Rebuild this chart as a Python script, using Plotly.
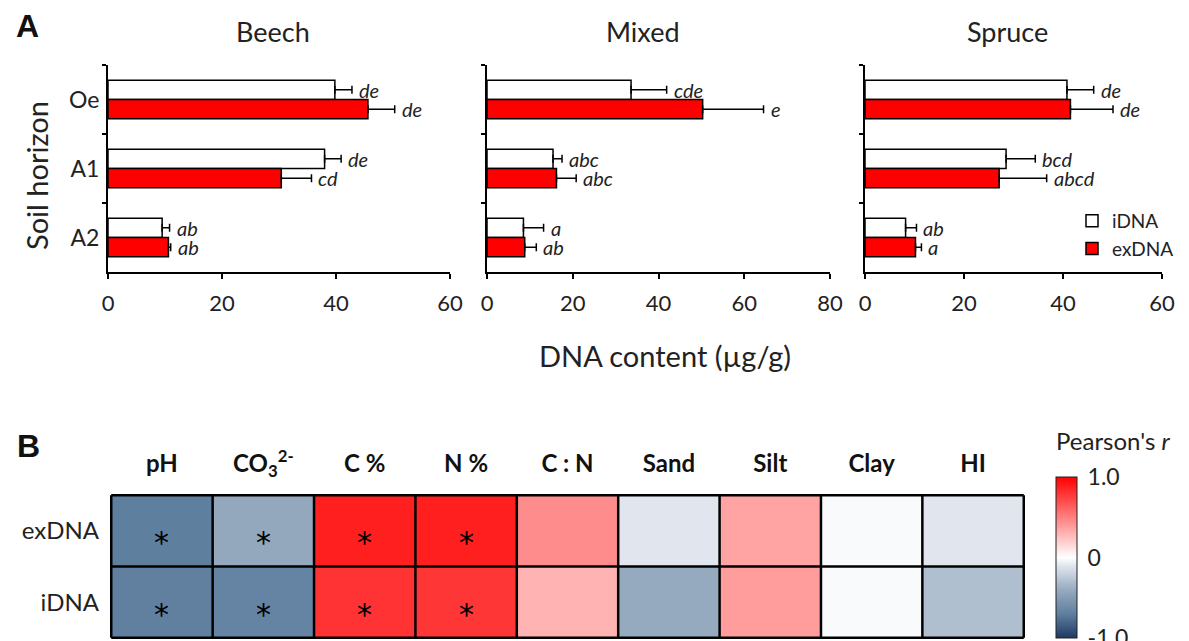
import plotly.graph_objects as go

# page body has an 8px margin, so the figure is sized to fit the 1189x641 window
OFF = 8
W, H = 1189 - 2 * OFF, 641 - OFF
FONT = "Lato, Carlito, Open Sans, sans-serif"

# ---------------- Panel A data ----------------
horizons = ["Oe", "A1", "A2"]

beech_idna = [39.8, 38.0, 9.5]
beech_idna_err = [3.0, 2.9, 1.3]
beech_exdna = [45.6, 30.4, 10.6]
beech_exdna_err = [4.7, 5.3, 0.4]

mixed_idna = [33.6, 15.4, 8.5]
mixed_idna_err = [8.3, 2.1, 4.7]
mixed_exdna = [50.3, 16.2, 8.8]
mixed_exdna_err = [14.2, 4.6, 2.7]

spruce_idna = [40.8, 28.5, 8.2]
spruce_idna_err = [5.4, 5.9, 2.2]
spruce_exdna = [41.5, 27.1, 10.2]
spruce_exdna_err = [8.6, 9.6, 1.2]

beech_idna_lab = ["de", "de", "ab"]
beech_exdna_lab = ["de", "cd", "ab"]
mixed_idna_lab = ["cde", "abc", "a"]
mixed_exdna_lab = ["e", "abc", "ab"]
spruce_idna_lab = ["de", "bcd", "ab"]
spruce_exdna_lab = ["de", "abcd", "a"]

forest_types = ["Beech", "Mixed", "Spruce"]
x_max = [60, 80, 60]

# ---------------- Panel B data ----------------
variables = ["pH", "CO<sub>3</sub><sup>2-</sup>", "C %", "N %", "C : N", "Sand", "Silt", "Clay", "HI"]
dna_rows = ["exDNA", "iDNA"]
r_exdna = [-0.70, -0.42, 0.88, 0.88, 0.45, -0.10, 0.36, -0.02, -0.10]
r_idna = [-0.69, -0.67, 0.80, 0.79, 0.30, -0.41, 0.39, -0.02, -0.30]
sig_exdna = [True, True, True, True, False, False, False, False, False]
sig_idna = [True, True, True, True, False, False, False, False, False]


def px_x(p):
    return (p - OFF) / W


def px_y(p):
    return 1 - (p - OFF) / H


fig = go.Figure()

panels = [
    (beech_idna, beech_idna_err, beech_exdna, beech_exdna_err, beech_idna_lab, beech_exdna_lab),
    (mixed_idna, mixed_idna_err, mixed_exdna, mixed_exdna_err, mixed_idna_lab, mixed_exdna_lab),
    (spruce_idna, spruce_idna_err, spruce_exdna, spruce_exdna_err, spruce_idna_lab, spruce_exdna_lab),
]
x_domains = [(108, 450), (487, 830), (865, 1162)]
annotations = []
for k, (iv, ie, ev, ee, il, el) in enumerate(panels):
    xa = "x" if k == 0 else f"x{k+1}"
    ya = "y" if k == 0 else f"y{k+1}"
    show = k == 2
    fig.add_trace(go.Bar(
        y=horizons, x=iv, orientation="h", name="iDNA", xaxis=xa, yaxis=ya,
        marker=dict(color="white", line=dict(color="black", width=1.5)),
        error_x=dict(type="data", array=ie, arrayminus=[0] * len(ie), symmetric=False,
                     color="black", thickness=1.5, width=4),
        showlegend=show, legendrank=1,
    ))
    fig.add_trace(go.Bar(
        y=horizons, x=ev, orientation="h", name="exDNA", xaxis=xa, yaxis=ya,
        marker=dict(color="#FF0000", line=dict(color="black", width=1.5)),
        error_x=dict(type="data", array=ee, arrayminus=[0] * len(ee), symmetric=False,
                     color="black", thickness=1.5, width=4),
        showlegend=show, legendrank=2,
    ))
    for i in range(len(horizons)):
        annotations.append(dict(x=iv[i] + ie[i], y=i - 0.14, xref=xa, yref=ya, text=f"<i>{il[i]}</i>",
                                showarrow=False, xanchor="left", yanchor="middle", xshift=5,
                                font=dict(size=20, family=FONT, color="#222")))
        annotations.append(dict(x=ev[i] + ee[i], y=i + 0.14, xref=xa, yref=ya, text=f"<i>{el[i]}</i>",
                                showarrow=False, xanchor="left", yanchor="middle", xshift=5,
                                font=dict(size=20, family=FONT, color="#222")))
    x0, x1 = x_domains[k]
    xkey = "xaxis" if k == 0 else f"xaxis{k+1}"
    ykey = "yaxis" if k == 0 else f"yaxis{k+1}"
    fig.layout[xkey] = dict(
        domain=[px_x(x0), px_x(x1)], anchor=ya, range=[0, x_max[k]], dtick=20,
        showline=True, linecolor="black", linewidth=2, ticks="outside", ticklen=5,
        tickwidth=2, tickcolor="black", showgrid=False, zeroline=False, automargin=False,
        tickfont=dict(size=22, family=FONT, color="#222"), ticklabelstandoff=6,
    )
    fig.layout[ykey] = dict(
        domain=[px_y(272), px_y(65)], anchor=xa, type="category",
        categoryorder="array", categoryarray=horizons, range=[2.5, -0.5],
        showline=True, linecolor="black", linewidth=2, ticks="outside", ticklen=4,
        tickwidth=2, tickcolor="black", tickson="boundaries", showgrid=False,
        zeroline=False, automargin=False,
        showticklabels=(k == 0), tickfont=dict(size=23, family=FONT, color="#222"),
        ticklabelstandoff=2,
    )
    annotations.append(dict(x=px_x([273, 643, 1007][k]), y=px_y(32), xref="paper", yref="paper",
                            text=forest_types[k], showarrow=False, xanchor="center", yanchor="middle",
                            font=dict(size=27, family=FONT, color="#222")))

# ---------------- Heatmap ----------------
z = [r_exdna, r_idna]
colorscale = [
    [0.0, "#1F3864"],
    [0.15, "#5F7F9F"],
    [0.30, "#97ABBF"],
    [0.45, "#E1E6EE"],
    [0.5, "#FFFFFF"],
    [1.0, "#FF0000"],
]
fig.add_trace(go.Heatmap(
    z=z, x=variables, y=dna_rows, xaxis="x4", yaxis="y4", zmin=-1, zmax=1,
    colorscale=colorscale, hoverinfo="z",
    colorbar=dict(x=px_x(1056), xanchor="left", thickness=21, lenmode="pixels", len=161,
                  y=px_y(557.5), yanchor="middle", tickvals=[-1, 0, 1],
                  ticktext=["-1.0", "0", "1.0"], ticks="outside", ticklen=6,
                  tickcolor="rgba(0,0,0,0)", outlinewidth=1, ticklabeloverflow="allow",
                  outlinecolor="#222", xpad=0, ypad=0,
                  tickfont=dict(size=23, family=FONT, color="#222")),
))
fig.layout["xaxis4"] = dict(
    domain=[px_x(110), px_x(1025)], anchor="y4", side="top", type="category",
    showgrid=False, zeroline=False, ticks="", ticklabelstandoff=16, automargin=False,
    tickfont=dict(size=24, family=FONT, color="#111", weight="bold"),
)
fig.layout["yaxis4"] = dict(
    domain=[px_y(639), px_y(494)], anchor="x4", type="category",
    autorange="reversed", showgrid=False, zeroline=False, ticks="", ticklabelstandoff=10,
    automargin=False, tickfont=dict(size=24, family=FONT, color="#222"),
)

# significance stars
for j, (row, sig) in enumerate(zip(dna_rows, [sig_exdna, sig_idna])):
    for i, var in enumerate(variables):
        if sig[i]:
            annotations.append(dict(x=i, y=j, xref="x4", yref="y4", text="*", showarrow=False,
                                    yshift=-12, font=dict(size=30, family="DejaVu Sans", color="black")))

shapes = []
for i in range(len(variables) + 1):
    shapes.append(dict(type="line", xref="x4", yref="y4", x0=i - 0.5, x1=i - 0.5,
                       y0=-0.5, y1=len(dna_rows) - 0.5, line=dict(color="black", width=2.5)))
for j in range(len(dna_rows) + 1):
    shapes.append(dict(type="line", xref="x4", yref="y4", x0=-0.5, x1=len(variables) - 0.5,
                       y0=j - 0.5, y1=j - 0.5, line=dict(color="black", width=2.5)))

annotations += [
    dict(x=px_x(665), y=px_y(355), xref="paper", yref="paper", text="DNA content (µg/g)",
         showarrow=False, xanchor="center", yanchor="middle",
         font=dict(size=29, family=FONT, color="#222")),
    dict(x=px_x(36), y=px_y(176), xref="paper", yref="paper", text="Soil horizon", textangle=-90,
         showarrow=False, xanchor="center", yanchor="middle",
         font=dict(size=29, family=FONT, color="#222")),
    dict(x=px_x(27), y=px_y(26), xref="paper", yref="paper", text="<b>A</b>",
         showarrow=False, xanchor="center", yanchor="middle",
         font=dict(size=32, family="Liberation Sans, Arial", color="#111")),
    dict(x=px_x(28), y=px_y(446), xref="paper", yref="paper", text="<b>B</b>",
         showarrow=False, xanchor="center", yanchor="middle",
         font=dict(size=32, family="Liberation Sans, Arial", color="#111")),
    dict(x=px_x(1054), y=px_y(440), xref="paper", yref="paper", text="Pearson's <i>r</i>",
         xanchor="left", yanchor="middle", showarrow=False,
         font=dict(size=24, family=FONT, color="#222")),
]

fig.update_layout(
    template="none",
    width=W, height=H, margin=dict(l=0, r=0, t=0, b=0, autoexpand=False),
    paper_bgcolor="white", plot_bgcolor="white",
    barmode="group", bargap=0.44, bargroupgap=0,
    font=dict(family=FONT, color="#222"),
    annotations=annotations, shapes=shapes,
    legend=dict(x=px_x(1072), y=px_y(202), xanchor="left", yanchor="top",
                font=dict(size=19, family=FONT, color="#222"), bgcolor="rgba(0,0,0,0)",
                itemwidth=30, tracegroupgap=0),
)

fig.write_html("out.html")
